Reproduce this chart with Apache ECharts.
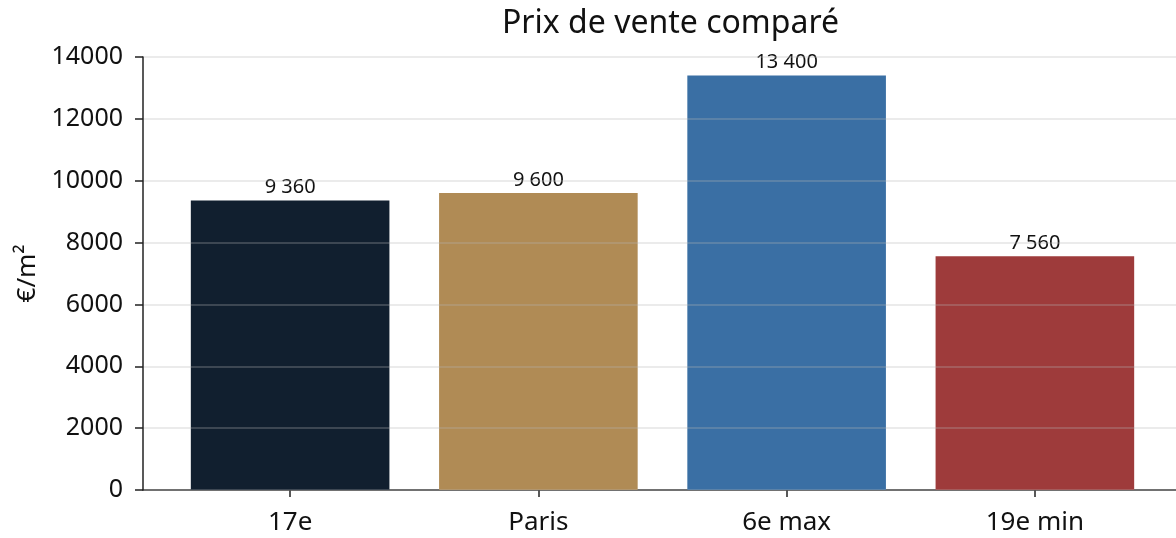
<!DOCTYPE html>
<html>
<head>
<meta charset="utf-8">
<script src="https://cdn.jsdelivr.net/npm/echarts@6/dist/echarts.min.js"></script>
<style>
html,body{margin:0;padding:0;background:#fff;}
#chart{width:1176px;height:538px;}
</style>
</head>
<body>
<div id="chart"></div>
<script>
// données
var categories = ['17e', 'Paris', '6e max', '19e min'];
var values = [9360, 9600, 13400, 7560];
var colors = ['#111f2f', '#b08b55', '#3a6fa4', '#9e3b3b'];
var yTicks = [0, 2000, 4000, 6000, 8000, 10000, 12000, 14000];

var FONT = 'Noto Sans';

var chart = echarts.init(document.getElementById('chart'));

function fmt(v){
	return String(v).replace(/\B(?=(\d{3})+(?!\d))/g, ' ');
}

var barData = [];
for (var i = 0; i < values.length; i++) {
	barData.push({value: values[i], itemStyle: {color: colors[i]}});
}

var option = {
	backgroundColor: '#ffffff',
	animation: false,
	title: {
		text: 'Prix de vente comparé',
		left: 497,
		top: 3,
		textStyle: {fontFamily: FONT, fontSize: 32, fontWeight: 'normal', color: '#111'}
	},
	grid: [
		// grille des barres
		{left: 166, right: 17, top: 57, bottom: 48},
		// cadre des axes
		{left: 143, right: 0, top: 57, bottom: 48}
	],
	xAxis: [
		{
			type: 'category', gridIndex: 0, data: categories,
			axisLine: {show: false},
			axisTick: {show: true, alignWithLabel: true, length: 7, lineStyle: {color: '#222', width: 1.5}},
			axisLabel: {fontFamily: FONT, fontSize: 26, color: '#111', margin: 20}
		},
		{
			type: 'value', gridIndex: 1, min: 0, max: 1,
			axisLine: {show: true, onZero: false, lineStyle: {color: '#222', width: 1.5}},
			axisTick: {show: false}, axisLabel: {show: false}, splitLine: {show: false}
		}
	],
	yAxis: [
		{type: 'value', gridIndex: 0, min: 0, max: 14000, interval: 2000, show: false},
		{
			type: 'value', gridIndex: 1, min: 0, max: 14000, interval: 2000, z: 5,
			name: '€/m²', nameLocation: 'middle', nameGap: 100, nameRotate: 90,
			nameTextStyle: {fontFamily: FONT, fontSize: 26, color: '#111'},
			axisLine: {show: true, lineStyle: {color: '#222', width: 1.5}},
			axisTick: {show: true, length: 8, lineStyle: {color: '#222', width: 1.5}},
			axisLabel: {fontFamily: FONT, fontSize: 25, color: '#111', margin: 20,
				formatter: function(v){ return yTicks.indexOf(v) >= 0 ? String(v) : ''; }},
			splitLine: {show: true, lineStyle: {color: 'rgba(180,180,180,0.27)', width: 2}}
		}
	],
	series: [
		{
			type: 'bar', xAxisIndex: 0, yAxisIndex: 0,
			data: barData,
			barWidth: '80%',
			label: {
				show: true, position: 'top', distance: 3,
				fontFamily: FONT, fontSize: 20, color: '#111',
				formatter: function(p){ return fmt(p.value); }
			}
		}
	]
};

chart.setOption(option);
</script>
</body>
</html>
